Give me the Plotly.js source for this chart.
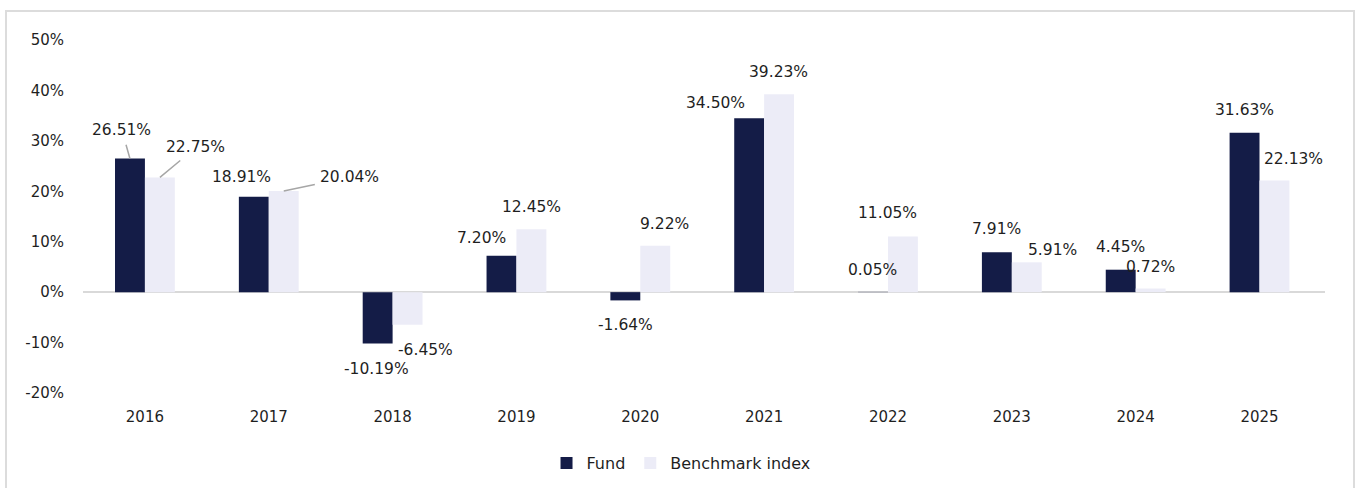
<!DOCTYPE html>
<html>
<head>
<meta charset="utf-8">
<script src="https://cdn.plot.ly/plotly-3.0.1.min.js"></script>
<style>
  html, body { margin: 0; padding: 0; background: #ffffff; width: 1359px; height: 488px; overflow: hidden; }
  #frame { position: absolute; left: 5px; top: 10px; width: 1350px; height: 500px; box-sizing: border-box; border: 2px solid #DCDCDC; }
  #chart { position: absolute; left: 7px; top: 12px; width: 1344px; height: 476px; }
</style>
</head>
<body>
<div id="frame"></div>
<div id="chart"></div>
<script>
// ---- data ----
const years = ['2016', '2017', '2018', '2019', '2020', '2021', '2022', '2023', '2024', '2025'];
const fund = [26.51, 18.91, -10.19, 7.20, -1.64, 34.50, 0.05, 7.91, 4.45, 31.63];
const benchmark = [22.75, 20.04, -6.45, 12.45, 9.22, 39.23, 11.05, 5.91, 0.72, 22.13];
const seriesNames = ['Fund', 'Benchmark index'];
const yTickVals = [-20, -10, 0, 10, 20, 30, 40, 50];
const yTickText = yTickVals.map(v => v + '%');

// ---- label placement (pixel offsets of each label from its bar end) ----
const fundDx = [-8, -12, -1, -20, 0, -34, 0, 0, 0, 0];
const fundDy = [-28, -20, 25, -18, 25, -15, -22, -23, -23, -23];
const benchDx = [36, 66, 18, 0, 9, -1, -15, 26, 0, 19];
const benchDy = [-30, -14, 25, -22, -22, -22, -23, -12, -22, -22];
const fundLeader = [true, false, false, false, false, false, false, false, false, false];
const benchLeader = [true, true, false, false, false, false, false, false, false, false];

const FONT = 'DejaVu Sans, sans-serif';
const TXT = '#1f1f1f';
const FUND_C = '#141C47';
const BENCH_C = '#ECECF7';

function labels(vals, dx, dy, leader, barShift) {
  return vals.map((v, i) => {
    const a = {
      x: i, y: v, xref: 'x', yref: 'y',   // category index of years[i]
      text: v.toFixed(2) + '%',
      font: {family: FONT, size: 15.5, color: TXT},
      xanchor: 'center', yanchor: 'middle'
    };
    if (leader[i]) {
      Object.assign(a, {
        showarrow: true, axref: 'pixel', ayref: 'pixel', ax: dx[i], ay: dy[i],
        xshift: barShift, arrowhead: 0, arrowwidth: 1.5, arrowcolor: '#A6A6A6',
        standoff: 0, startstandoff: 4
      });
    } else {
      Object.assign(a, {showarrow: false, xshift: barShift + dx[i], yshift: -dy[i]});
    }
    return a;
  });
}

const traces = [
  {type: 'bar', name: seriesNames[0], x: years, y: fund, marker: {color: FUND_C}, hoverinfo: 'skip'},
  {type: 'bar', name: seriesNames[1], x: years, y: benchmark, marker: {color: BENCH_C}, hoverinfo: 'skip'}
];

const layout = {
  width: 1344, height: 476,
  margin: {l: 76, r: 26, t: 28, b: 95, autoexpand: false},
  paper_bgcolor: '#ffffff', plot_bgcolor: '#ffffff',
  barmode: 'group', bargap: 0.517, bargroupgap: 0,
  font: {family: FONT, color: TXT},
  showlegend: true,
  legend: {
    orientation: 'h', x: 0.4815, xanchor: 'center',
    yref: 'container', y: 0.0525, yanchor: 'middle',
    font: {family: FONT, size: 16, color: TXT}, itemwidth: 30, traceorder: 'normal'
  },
  xaxis: {
    type: 'category', showgrid: false, showline: false, ticks: '', automargin: false,
    tickfont: {family: FONT, size: 15, color: TXT}, ticklabelstandoff: 13
  },
  yaxis: {
    range: [-20, 50], tickmode: 'array', tickvals: yTickVals, ticktext: yTickText,
    showgrid: false, showline: false, ticks: '', automargin: false,
    zeroline: true, zerolinecolor: '#D9D9D9', zerolinewidth: 2,
    tickfont: {family: FONT, size: 15, color: TXT}, ticklabelstandoff: 18
  },
  annotations: labels(fund, fundDx, fundDy, fundLeader, -15)
    .concat(labels(benchmark, benchDx, benchDy, benchLeader, 15))
};

Plotly.newPlot('chart', traces, layout, {staticPlot: true, displayModeBar: false});
</script>
</body>
</html>
